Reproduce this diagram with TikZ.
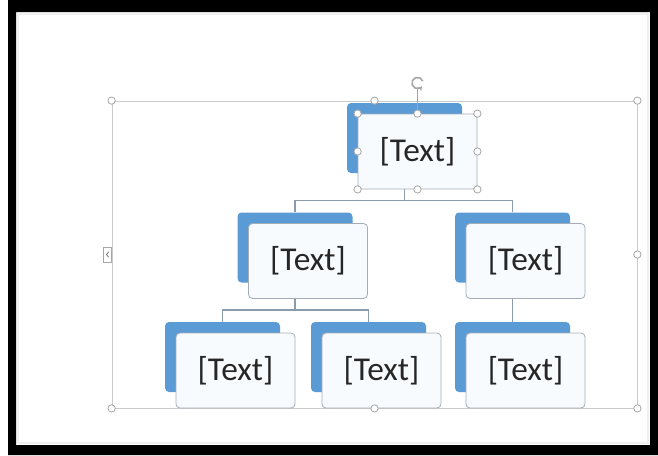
\documentclass[tikz,border=0pt]{standalone}
\usepackage{fontspec}
\setmainfont{Carlito}
\usetikzlibrary{calc,arrows.meta}
\definecolor{artblue}{HTML}{5B9BD5}
\definecolor{artline}{HTML}{8A9BAD}
\definecolor{boxedge}{HTML}{A3ADB8}
\definecolor{boxfill}{HTML}{F8FBFE}
\definecolor{handlegray}{HTML}{A6A6A6}
\definecolor{textgray}{HTML}{262626}
\tikzset{
  backbox/.style={fill=artblue, rounded corners=3pt, minimum width=86.25pt, minimum height=52.5pt, inner sep=0pt},
  textbox/.style={draw=boxedge, fill=boxfill, line width=0.6pt, rounded corners=3pt, minimum width=89.25pt, minimum height=56.25pt, inner sep=0pt, font=\fontsize{25}{30}\selectfont, text=textgray},
  orgline/.style={draw=artline, line width=1pt, to path={|- ($(\tikztostart)!0.7!(\tikztotarget)$) -| (\tikztotarget)}},
  handle/.style={circle, draw=handlegray, fill=white, line width=0.6pt, minimum size=5.5pt, inner sep=0pt},
}
\begin{document}
\begin{tikzpicture}[x=0.75pt,y=-0.75pt]
  \useasboundingbox (0,0) rectangle (658,455);

  % Black frame round the slide
  \fill[black, even odd rule] (8,0) rectangle (658,455) (16,12) rectangle (650,445);
  \draw[gray!12, line width=1pt] (18,14) rectangle (648,443);

  % Selection frame of the graphic
  \node[draw=handlegray!60, line width=0.6pt, minimum width=393.75pt, minimum height=230.25pt, inner sep=0pt] (sel) at (374.5,254.5) {};

  % Blue back shapes
  \foreach \n/\x/\y in {t/404.5/138, l/295/247.5, r/512.5/247.5, ll/222.5/357, lm/368.5/357, rr/512.5/357}
    \node[backbox] (b\n) at (\x,\y) {};

  % Connectors
  \path (bt.south) edge[orgline] (bl.north) edge[orgline] (br.north)
        (bl.south) edge[orgline] (bll.north) edge[orgline] (blm.north)
        (br.south) edge[orgline] (brr.north);

  % Text boxes
  \foreach \n in {t,l,r,ll,lm,rr}
    \node[textbox] (w\n) at ([shift={(13,13.5)}]b\n.center) {[Text]};

  % Handles of the selection frame
  \foreach \a [count=\i] in {north west, north, north east, east, south east, south, south west}
    \node[handle] (sh\i) at (sel.\a) {};
  \node[draw=handlegray, fill=white, line width=0.5pt, minimum width=6pt, minimum height=11pt, inner sep=0pt] (pane) at ([xshift=-3pt]sel.west) {};
  \draw[handlegray!70!black, line width=0.6pt] ([shift={(0.8pt,2pt)}]pane.center) -- ([xshift=-0.8pt]pane.center) -- ([shift={(0.8pt,-2pt)}]pane.center);

  % Handles of the selected box
  \foreach \a [count=\i] in {north west, north, north east, west, east, south west, south, south east}
    \node[handle] (th\i) at (wt.\a) {};

  % Rotation handle
  \coordinate (rot) at ([yshift=23pt]wt.north);
  \draw[handlegray, line width=0.6pt] (th2.north) -- ([yshift=-4.5pt]rot);
  \draw[handlegray, line width=1.2pt, -{Stealth[length=3pt,width=4pt]}] ([shift={(20:4.2pt)}]rot) arc[start angle=20, end angle=320, radius=4.2pt];
\end{tikzpicture}
\end{document}
